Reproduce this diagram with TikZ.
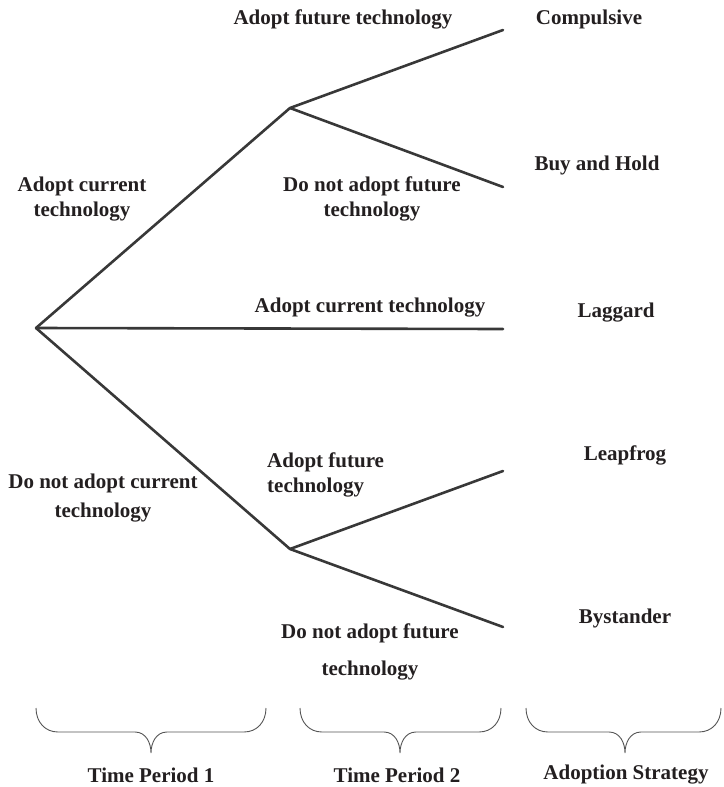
\documentclass[tikz,border=0pt]{standalone}
\usepackage{fontspec}
\setmainfont{Liberation Serif}
\usepackage{tikz}
\usetikzlibrary{calc}

\definecolor{branchgray}{HTML}{383838}
\definecolor{bracegray}{HTML}{555555}
\definecolor{labelblack}{HTML}{231F20}

% curly brace under one column: #1 left end, #2 right end, #3 tip
\newcommand{\periodbrace}[3]{%
  \draw[brace line] (#1) .. controls +(0,14) and +(-13,0) .. ($(#1)+(22,24)$)
    -- ($(#3)+(-16,-21)$) .. controls +(11,0) and +(0,-10) .. (#3)
    .. controls +(0,-10) and +(-11,0) .. ($(#3)+(16,-21)$)
    -- ($(#2)+(-22,24)$) .. controls +(13,0) and +(0,14) .. (#2);}

\begin{document}
\begin{tikzpicture}[x=1pt, y=-1pt,
  every node/.style={font=\fontsize{21}{25}\selectfont\bfseries, text=labelblack, inner sep=0pt},
  branch/.style={draw=branchgray, line width=2.6pt, line cap=round, line join=round},
  brace line/.style={draw=bracegray, line width=0.9pt}]
\useasboundingbox (0,0) rectangle (723,787);

% Decision points and branch ends
\coordinate (root) at (36,328);
\coordinate (adoptnow) at (290,108);
\coordinate (waitnow) at (290,549);
\coordinate (endcomp) at (503,30);
\coordinate (endhold) at (503,187);
\coordinate (endlag) at (503,329);
\coordinate (endleap) at (503,471);
\coordinate (endby) at (503,627);

\draw[branch] (root) -- (adoptnow);
\draw[branch] (root) -- (endlag);
\draw[branch] (root) -- (waitnow);
\draw[branch] (adoptnow) -- (endcomp);
\draw[branch] (adoptnow) -- (endhold);
\draw[branch] (waitnow) -- (endleap);
\draw[branch] (waitnow) -- (endby);

% Branch labels
\node (actup) at (82,199) [align=center] {Adopt current\\technology};
\node (dnact) at (103,498) [align=center] {Do not adopt current\\[4pt]technology};
\node (afttop) at (343,19) {Adopt future technology};
\node (dnaftop) at (372,199) [align=center] {Do not adopt future\\technology};
\node (actmid) at (370,308) {Adopt current technology};
\node (aftlow) at (267,475) [anchor=west, align=left] {Adopt future\\technology};
\node (dnaflow) at (370,652) [align=center] {Do not adopt future\\[12pt]technology};

% Adoption strategies
\node (compulsive) at (589,19) {Compulsive};
\node (buyhold) at (597,165) {Buy and Hold};
\node (laggard) at (616,313) {Laggard};
\node (leapfrog) at (625,455) {Leapfrog};
\node (bystander) at (625,618) {Bystander};

% Column braces
\coordinate (p1l) at (36,708);
\coordinate (p1r) at (266,708);
\coordinate (p1tip) at (151,753);
\coordinate (p2l) at (300,708);
\coordinate (p2r) at (501,708);
\coordinate (p2tip) at (400,753);
\coordinate (p3l) at (526,708);
\coordinate (p3r) at (721,708);
\coordinate (p3tip) at (625,753);
\periodbrace{p1l}{p1r}{p1tip}
\periodbrace{p2l}{p2r}{p2tip}
\periodbrace{p3l}{p3r}{p3tip}

\node (period1) at (151,775) {Time Period 1};
\node (period2) at (397,775) {Time Period 2};
\node (strategy) at (626,775) {Adoption Strategy};
\end{tikzpicture}
\end{document}
